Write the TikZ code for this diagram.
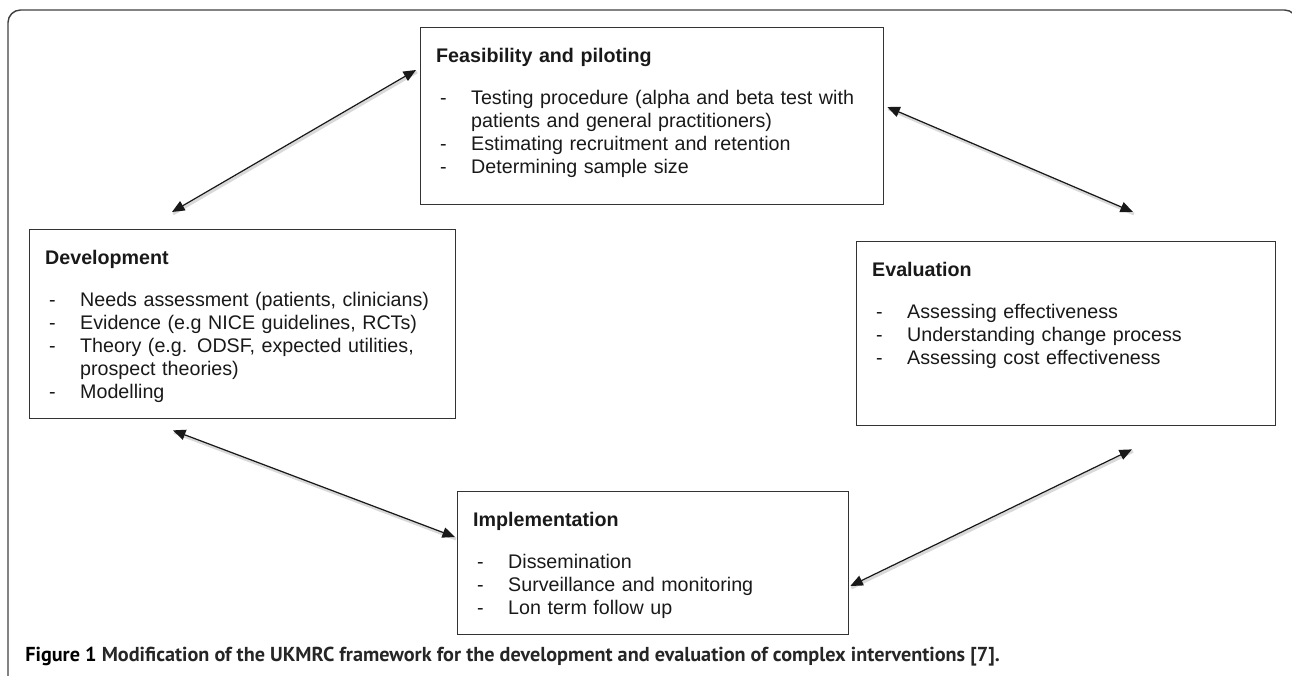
\documentclass[tikz,border=0pt]{standalone}
\usepackage{fontspec}
\setmainfont{Liberation Sans}
\newfontfamily\capfont{PT Sans}
\usetikzlibrary{arrows.meta}

\tikzset{
    stagebox/.style={draw=black!80, line width=0.8pt, anchor=north west, align=left,
        inner xsep=0.31cm, inner ysep=0pt, text=black!90,
        font=\fontsize{11.2}{13}\selectfont},
    link/.style={{Triangle[length=0.25cm,width=0.21cm]}-{Triangle[length=0.25cm,width=0.21cm]},
        line width=0.7pt, black!90,
        preaction={draw=black!15, line width=1.6pt, -, transform canvas={shift={(1,2)}}}},
    frame/.style={draw=black!75, line width=0.8pt, rounded corners=0.25cm}
}
\newcommand{\dashitem}[1]{\makebox[0.7cm][l]{\hspace{0.08cm}-}#1}

\begin{document}
\begin{tikzpicture}[x=0.02cm, y=-0.02cm]
        \useasboundingbox (0,0) rectangle (1292,676);
        % outer frame, open at the bottom and right
        \draw[frame] (8,690) -- (8,10) -- (1297,10) -- (1297,690);

        % the four stages
        \node[stagebox, text width=8.64cm, text height=0.70cm, text depth=2.84cm] (feas) at (420,27)
            {\textbf{Feasibility and piloting}\\[11pt]
             \dashitem{Testing procedure (alpha and beta test with}\\
             \hspace*{0.7cm}patients and general practitioners)\\
             \dashitem{Estimating recruitment and retention}\\
             \dashitem{Determining sample size}};
        \node[stagebox, text width=7.90cm, text height=0.70cm, text depth=3.08cm] (dev) at (29,229)
            {\textbf{Development}\\[11pt]
             \dashitem{Needs assessment (patients, clinicians)}\\
             \dashitem{Evidence (e.g NICE guidelines, RCTs)}\\
             \dashitem{Theory (e.g. ODSF, expected utilities,}\\
             \hspace*{0.7cm}prospect theories)\\
             \dashitem{Modelling}};
        \node[stagebox, text width=7.76cm, text height=0.70cm, text depth=2.98cm] (eval) at (856,241)
            {\textbf{Evaluation}\\[11pt]
             \dashitem{Assessing effectiveness}\\
             \dashitem{Understanding change process}\\
             \dashitem{Assessing cost effectiveness}};
        \node[stagebox, text width=7.20cm, text height=0.70cm, text depth=2.16cm] (impl) at (457,491)
            {\textbf{Implementation}\\[11pt]
             \dashitem{Dissemination}\\
             \dashitem{Surveillance and monitoring}\\
             \dashitem{Lon term follow up}};

        % two-way arrows round the cycle
        \draw[link] ([shift={(143,-17)}]dev.north west) -- ([shift={(-4,43)}]feas.north west);
        \draw[link] ([shift={(3,80)}]feas.north east) -- ([shift={(277,-29)}]eval.north west);
        \draw[link] ([shift={(144,11)}]dev.south west) -- ([shift={(-2,46)}]impl.north west);
        \draw[link] ([shift={(276,23)}]eval.south west) -- ([shift={(1,95)}]impl.north east);

        \node[anchor=base west, inner sep=0pt, font=\capfont\bfseries\fontsize{11.5}{13}\selectfont] (caption) at (25,661)
            {Figure 1 \textcolor{black!85}{Modification of the UKMRC framework for the development and evaluation of complex interventions [7].}};
\end{tikzpicture}
\end{document}
